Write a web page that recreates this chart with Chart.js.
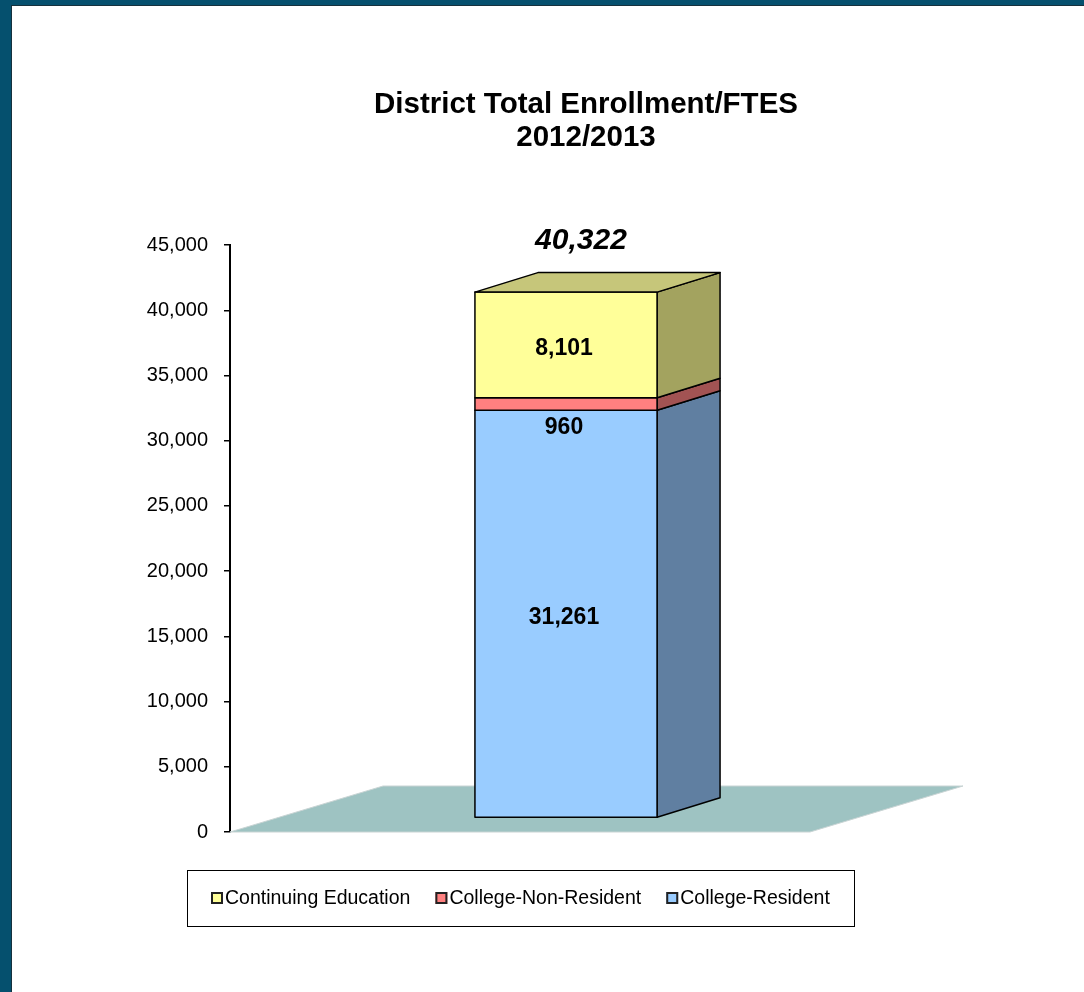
<!DOCTYPE html>
<html>
<head>
<meta charset="utf-8">
<title>District Total Enrollment/FTES 2012/2013</title>
<script src="https://cdn.jsdelivr.net/npm/chart.js@4.4.1/dist/chart.umd.min.js"></script>
<style>
  html, body { margin: 0; padding: 0; width: 1084px; height: 992px; overflow: hidden; background: #05506e; }
  #frame { position: absolute; left: 11px; top: 5px; width: 1073px; height: 987px; box-sizing: border-box;
           background: #fff; border-left: 1px solid #16313d; border-top: 1px solid #16313d; }
  #chart { display: block; }
</style>
</head>
<body>
<div id="frame"><canvas id="chart" width="1072" height="986"></canvas></div>
<script>
// Chart data
const categories = ['2012/2013'];
const seriesNames = ['College-Resident', 'College-Non-Resident', 'Continuing Education'];
const residentValues = [31261];
const nonResidentValues = [960];
const continuingValues = [8101];
const yTickValues = [0, 5000, 10000, 15000, 20000, 25000, 30000, 35000, 40000, 45000];

const FONT = '"Liberation Sans", Arial, sans-serif';

// 3D offsets (pixels) for the floor and the extruded bar
const FRONT = { dx: 46, dy: -14 };
const BAR_DEPTH = { dx: 63, dy: -19.5 };
const FLOOR_DEPTH = { dx: 153, dy: -46 };

function poly(ctx, pts, fill) {
    ctx.beginPath();
    ctx.moveTo(pts[0][0], pts[0][1]);
    for (let k = 1; k < pts.length; k++) ctx.lineTo(pts[k][0], pts[k][1]);
    ctx.closePath();
    ctx.fillStyle = fill;
    ctx.fill();
    ctx.stroke();
}

// Draws the floor, the 3D stacked bar and the value labels
const bar3d = {
    id: 'bar3d',
    beforeDatasetsDraw(chart) {
        const { ctx, chartArea, scales } = chart;
        const y0 = scales.y.getPixelForValue(0);
        const datasets = chart.data.datasets;
        const n = datasets.length;

        ctx.save();
        // floor
        ctx.beginPath();
        ctx.moveTo(chartArea.left, y0);
        ctx.lineTo(chartArea.right, y0);
        ctx.lineTo(chartArea.right + FLOOR_DEPTH.dx, y0 + FLOOR_DEPTH.dy);
        ctx.lineTo(chartArea.left + FLOOR_DEPTH.dx, y0 + FLOOR_DEPTH.dy);
        ctx.closePath();
        ctx.fillStyle = '#9ec3c2';
        ctx.fill();
        ctx.strokeStyle = '#c9d4d4';
        ctx.lineWidth = 1;
        ctx.stroke();

        // bars
        ctx.strokeStyle = '#000';
        ctx.lineWidth = 1.5;
        ctx.lineJoin = 'round';
        const boxes = [];
        datasets.forEach((ds, i) => {
            const meta = chart.getDatasetMeta(i);
            meta.data.forEach((el, j) => {
                const { x, y, base, width } = el.getProps(['x', 'y', 'base', 'width'], true);
                const l = x - width / 2 + FRONT.dx, r = x + width / 2 + FRONT.dx;
                const t = y + FRONT.dy, b = base + FRONT.dy;
                poly(ctx, [[r, b], [r + BAR_DEPTH.dx, b + BAR_DEPTH.dy], [r + BAR_DEPTH.dx, t + BAR_DEPTH.dy], [r, t]], ds.sideColor);
                poly(ctx, [[l, b], [r, b], [r, t], [l, t]], ds.backgroundColor);
                if (i === n - 1) {
                    poly(ctx, [[l, t], [r, t], [r + BAR_DEPTH.dx, t + BAR_DEPTH.dy], [l + BAR_DEPTH.dx, t + BAR_DEPTH.dy]], ds.topColor);
                }
                boxes.push({ i, j, l, r, t, b });
            });
        });

        // value labels
        ctx.fillStyle = '#000';
        ctx.textAlign = 'center';
        ctx.textBaseline = 'middle';
        ctx.font = 'bold 23px ' + FONT;
        boxes.forEach(bx => {
            const v = datasets[bx.i].data[bx.j];
            const cx = (bx.l + bx.r) / 2 - 2;
            // thin segments get their label just below them
            const cy = (bx.b - bx.t) < 30 ? bx.b + 17 : (bx.t + bx.b) / 2 + 4;
            ctx.fillText(v.toLocaleString('en-US'), cx, cy);
        });

        // total above the stack
        ctx.font = 'italic bold 30px ' + FONT;
        categories.forEach((c, j) => {
            const total = datasets.reduce((s, ds) => s + ds.data[j], 0);
            const top = boxes.filter(bx => bx.j === j && bx.i === n - 1)[0];
            ctx.fillText(total.toLocaleString('en-US'), (top.l + top.r) / 2 + 15, top.t - 51);
        });
        ctx.restore();
        return false;
    },
    // boxed legend under the plot
    afterDraw(chart) {
        const { ctx, chartArea } = chart;
        const items = chart.data.datasets.slice().reverse();
        ctx.save();
        ctx.font = '19.5px ' + FONT;
        const sq = 12, gapText = 2, gapItem = 25, pad = 24, boxH = 56;
        const widths = items.map(ds => sq + gapText + ctx.measureText(ds.label).width);
        const total = widths.reduce((s, w) => s + w, 0) + gapItem * (items.length - 1);
        const boxW = total + pad * 2;
        const bx = Math.round((chartArea.left + chartArea.right) / 2 - boxW / 2);
        const by = Math.round(chartArea.bottom + 38);
        ctx.strokeStyle = '#000';
        ctx.lineWidth = 1;
        ctx.strokeRect(bx + 0.5, by + 0.5, Math.round(boxW), boxH);
        const cy = by + boxH / 2;
        let x = bx + pad;
        items.forEach((ds, k) => {
            ctx.fillStyle = ds.backgroundColor;
            ctx.fillRect(x, cy - sq / 2, sq, sq);
            ctx.lineWidth = 2;
            ctx.strokeStyle = '#222';
            ctx.strokeRect(x + 1, cy - sq / 2 + 1, sq - 2, sq - 2);
            ctx.fillStyle = '#000';
            ctx.textAlign = 'left';
            ctx.textBaseline = 'middle';
            ctx.fillText(ds.label, x + sq + gapText, cy + 1);
            x += widths[k] + gapItem;
        });
        ctx.restore();
    }
};

Chart.defaults.font.family = FONT;
Chart.defaults.color = '#000';

const ctx = document.getElementById('chart').getContext('2d');
new Chart(ctx, {
    type: 'bar',
    data: {
        labels: categories,
        datasets: [
            { label: seriesNames[0], data: residentValues, backgroundColor: '#99ccff', sideColor: '#607fa1', topColor: '#7aa3cc' },
            { label: seriesNames[1], data: nonResidentValues, backgroundColor: '#ff8080', sideColor: '#a25353', topColor: '#cc6666' },
            { label: seriesNames[2], data: continuingValues, backgroundColor: '#ffff99', sideColor: '#a3a35f', topColor: '#c6c67a' }
        ]
    },
    options: {
        responsive: false,
        animation: false,
        categoryPercentage: 1,
        barPercentage: 0.314,
        layout: { padding: { left: 120, right: 44, top: 0, bottom: 160 } },
        plugins: {
            legend: { display: false },
            tooltip: { enabled: false },
            title: {
                display: true,
                text: ['District Total Enrollment/FTES', '2012/2013'],
                color: '#000',
                font: { size: 29.5, weight: 'bold', lineHeight: 1.12 },
                padding: { top: 82, bottom: 91 }
            }
        },
        scales: {
            x: { display: false, stacked: true },
            y: {
                stacked: true,
                min: 0,
                max: 45000,
                afterBuildTicks: s => { s.ticks = yTickValues.map(v => ({ value: v })); },
                afterFit: s => { s.width = 98; },
                ticks: {
                    callback: v => v.toLocaleString('en-US'),
                    color: '#000',
                    font: { size: 20 },
                    padding: 16
                },
                grid: { drawOnChartArea: false, drawTicks: true, tickLength: 6, color: '#000', lineWidth: 1.5 },
                border: { display: true, color: '#000', width: 2 }
            },
            depth: {
                type: 'linear',
                axis: 'y',
                position: 'right',
                display: true,
                grid: { display: false },
                border: { display: false },
                ticks: { display: false },
                afterFit: s => { s.width = 230; }
            }
        }
    },
    plugins: [bar3d]
});
</script>
</body>
</html>
